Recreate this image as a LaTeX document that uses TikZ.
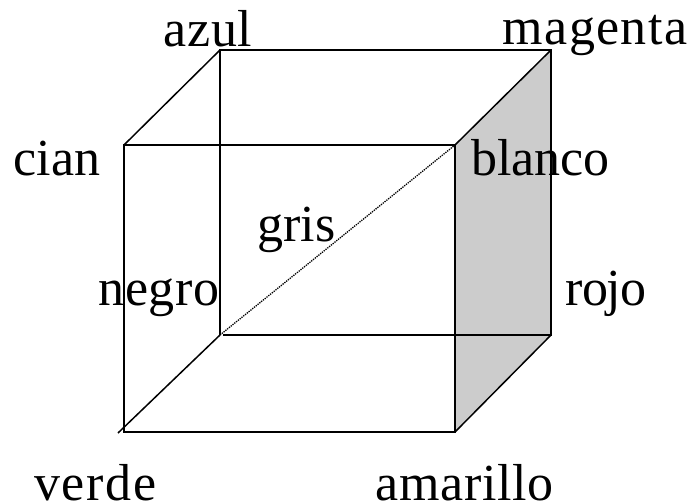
\documentclass[tikz,border=0pt]{standalone}
\usepackage{fontspec}
\setmainfont{Liberation Serif}
\tikzset{lab/.style={font=\fontsize{52}{52}\selectfont\addfontfeature{LetterSpace=#1},inner sep=0pt,anchor=base},lab/.default=0,edge/.style={line width=1.5pt,black}}
\begin{document}
\begin{tikzpicture}[x=1pt,y=-1pt]
\useasboundingbox (0,0) rectangle (690,503);
\coordinate (nbl) at (220,335);
\coordinate (nbr) at (551,335);
\coordinate (ntl) at (220,50);
\coordinate (ntr) at (551,50);
\coordinate (fbl) at (124,432);
\coordinate (fbr) at (455,432);
\coordinate (ftl) at (124,145);
\coordinate (ftr) at (455,145);
\coordinate (over) at (118,433);
\coordinate (nblr) at (223,335);
\fill[black!20] (ftr) -- (ntr) -- (nbr) -- (fbr) -- cycle;
\draw[edge] (nbl) -- (ntl) -- (ntr) -- (nbr) -- (nblr);
\draw[edge] (fbl) -- (ftl) -- (ftr) -- (fbr) -- cycle;
\draw[edge] (ftl) -- (ntl) (ftr) -- (ntr) (fbr) -- (nbr) (over) -- (nbl);
\draw[line width=1.3pt,densely dotted] (nbl) -- (ftr);
\node[lab=1] (azul) at (208,46) {azul};
\node[lab=2.6] (magenta) at (595,45) {magenta};
\node[lab=0.5] (cian) at (57,175) {cian};
\node[lab=0] (blanco) at (540.5,175) {blanco};
\node[lab=0] (gris) at (296.5,241) {gris};
\node[lab=1] (negro) at (159,305) {negro};
\node[lab=-2] (rojo) at (606,305) {rojo};
\node[lab=3.4] (verde) at (95.5,500) {verde};
\node[lab=1.1] (amarillo) at (464.5,500) {amarillo};
\end{tikzpicture}
\end{document}
